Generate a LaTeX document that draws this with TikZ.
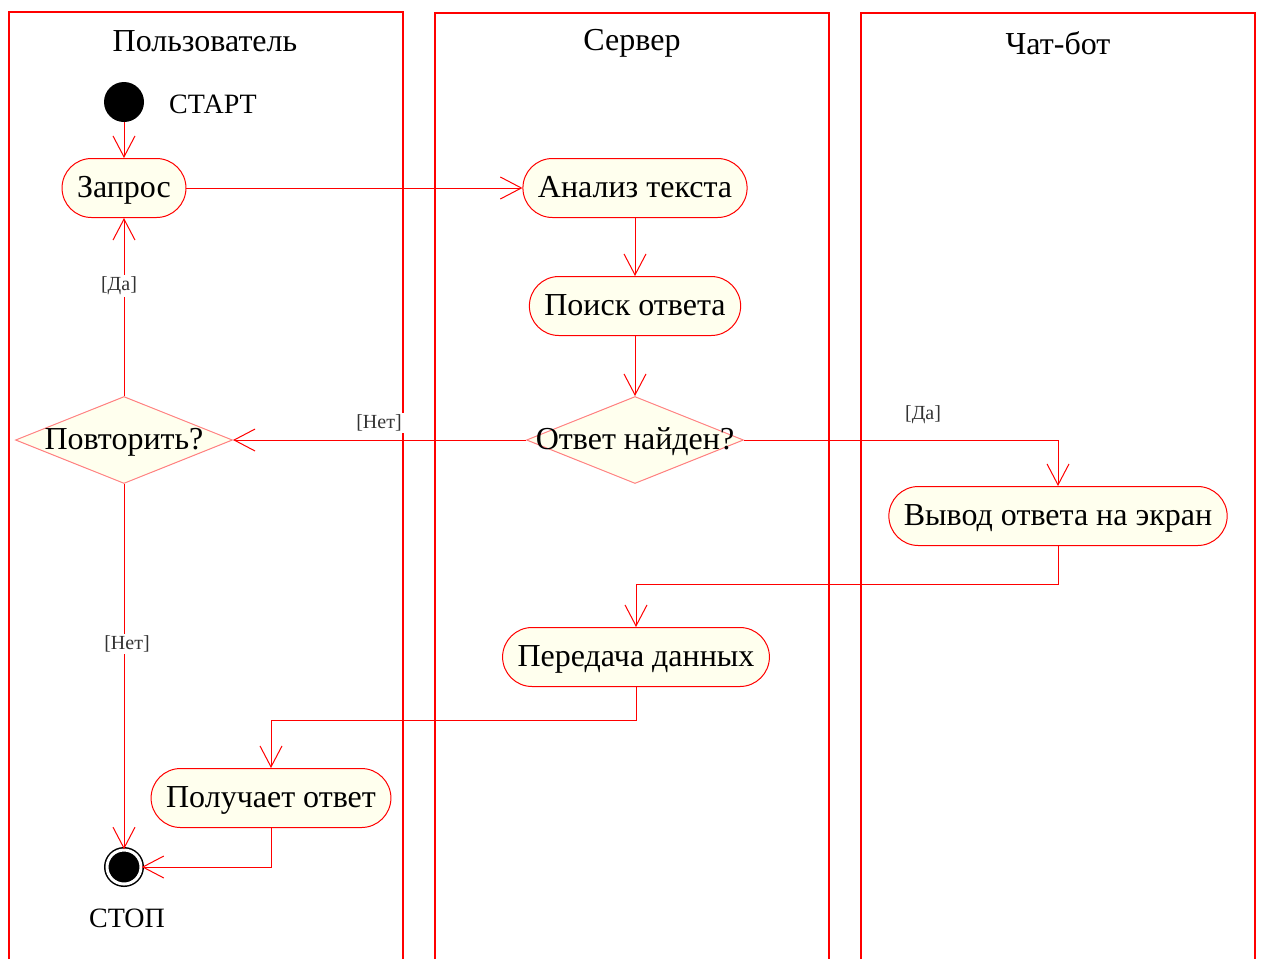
\documentclass[tikz,border=0pt]{standalone}
\usepackage{fontspec}
\setmainfont{Liberation Serif}
\usetikzlibrary{shapes.geometric,arrows.meta}
\definecolor{ivory}{RGB}{255,255,238}
\definecolor{dred}{RGB}{255,128,128}
\begin{document}
\begin{tikzpicture}[x=0.5pt,y=-0.5pt,
  lane/.style={draw=red, line width=1pt},
  act/.style={draw=red, fill=ivory, rounded corners=14.75pt, minimum height=29.5pt,
    inner xsep=7.5pt, inner ysep=0pt, text height=11.5pt, text depth=2.5pt,
    font=\fontsize{16}{19}\selectfont, line width=0.5pt},
  dec/.style={diamond, draw=dred, fill=ivory, minimum width=108.5pt, minimum height=43.5pt,
    inner sep=0pt, text height=11.5pt, text depth=2.5pt,
    font=\fontsize{16}{19}\selectfont, line width=0.5pt},
  conn/.style={draw=red, line width=0.5pt, -{Straight Barb[length=10.5pt,width=11pt]}},
  guard/.style={font=\fontsize{10}{12}\selectfont, text=black!80, fill=white, inner sep=1pt},
  lanetitle/.style={font=\fontsize{16}{19}\selectfont},
  startnode/.style={circle, fill=black, minimum size=20pt, inner sep=0pt},
  stopnode/.style={circle, draw=black, double=white, double distance=1.5pt, line width=0.75pt,
    fill=black, minimum size=17pt, inner sep=0pt},
  caption/.style={font=\fontsize{14}{17}\selectfont}]
\useasboundingbox (0,0) rectangle (1261,959);
% swimlanes
\draw[lane] (9,959) -- (9,12) -- (403,12) -- (403,959);
\draw[lane] (435,959) -- (435,13) -- (829,13) -- (829,959);
\draw[lane] (861,959) -- (861,13) -- (1255,13) -- (1255,959);
\node[lanetitle] (t1) at (205,41) {Пользователь};
\node[lanetitle] (t2) at (632,43) {Сервер};
\node[lanetitle] (t3) at (1058,43) {Чат-бот};
% nodes
\node[startnode] (start) at (124,102) {};
\node[caption] (startlbl) at (213,104) {СТАРТ};
\node[act] (zapros) at (124,188) {Запрос};
\node[act] (analiz) at (635,188) {Анализ текста};
\node[act] (poisk) at (635,306) {Поиск ответа};
\node[dec] (found) at (635,440) {\makebox[0pt]{Ответ найден?}};
\node[dec] (repeat) at (124,440) {\makebox[0pt]{Повторить?}};
\node[act] (vyvod) at (1058,516) {Вывод ответа на экран};
\node[act] (peredacha) at (636,657) {Передача данных};
\node[act] (poluchaet) at (271,798) {Получает ответ};
\node[stopnode] (stop) at (124,867) {};
\node[caption] (stoplbl) at (127,918) {СТОП};
\coordinate (c1) at (1058,584);
\coordinate (c2) at (636,720);
% connectors
\draw[conn] (start) -- (zapros);
\draw[conn] (zapros) -- (analiz);
\draw[conn] (analiz) -- (poisk);
\draw[conn] (poisk) -- (found);
\draw[conn] (found) -- (repeat);
\draw[conn] (found.east) -| (vyvod.north);
\draw[conn] (vyvod) -- (c1) -| (peredacha.north);
\draw[conn] (peredacha) -- (c2) -| (poluchaet.north);
\draw[conn] (poluchaet.south) |- (stop.east);
\draw[conn] (repeat) -- (zapros);
\draw[conn] (repeat) -- (stop);
% guards
\node[guard] (g1) at (379,423) {[Нет]};
\node[guard] (g2) at (923,415) {[Да]};
\node[guard] (g3) at (119,286) {[Да]};
\node[guard] (g4) at (127,644) {[Нет]};
\end{tikzpicture}
\end{document}
